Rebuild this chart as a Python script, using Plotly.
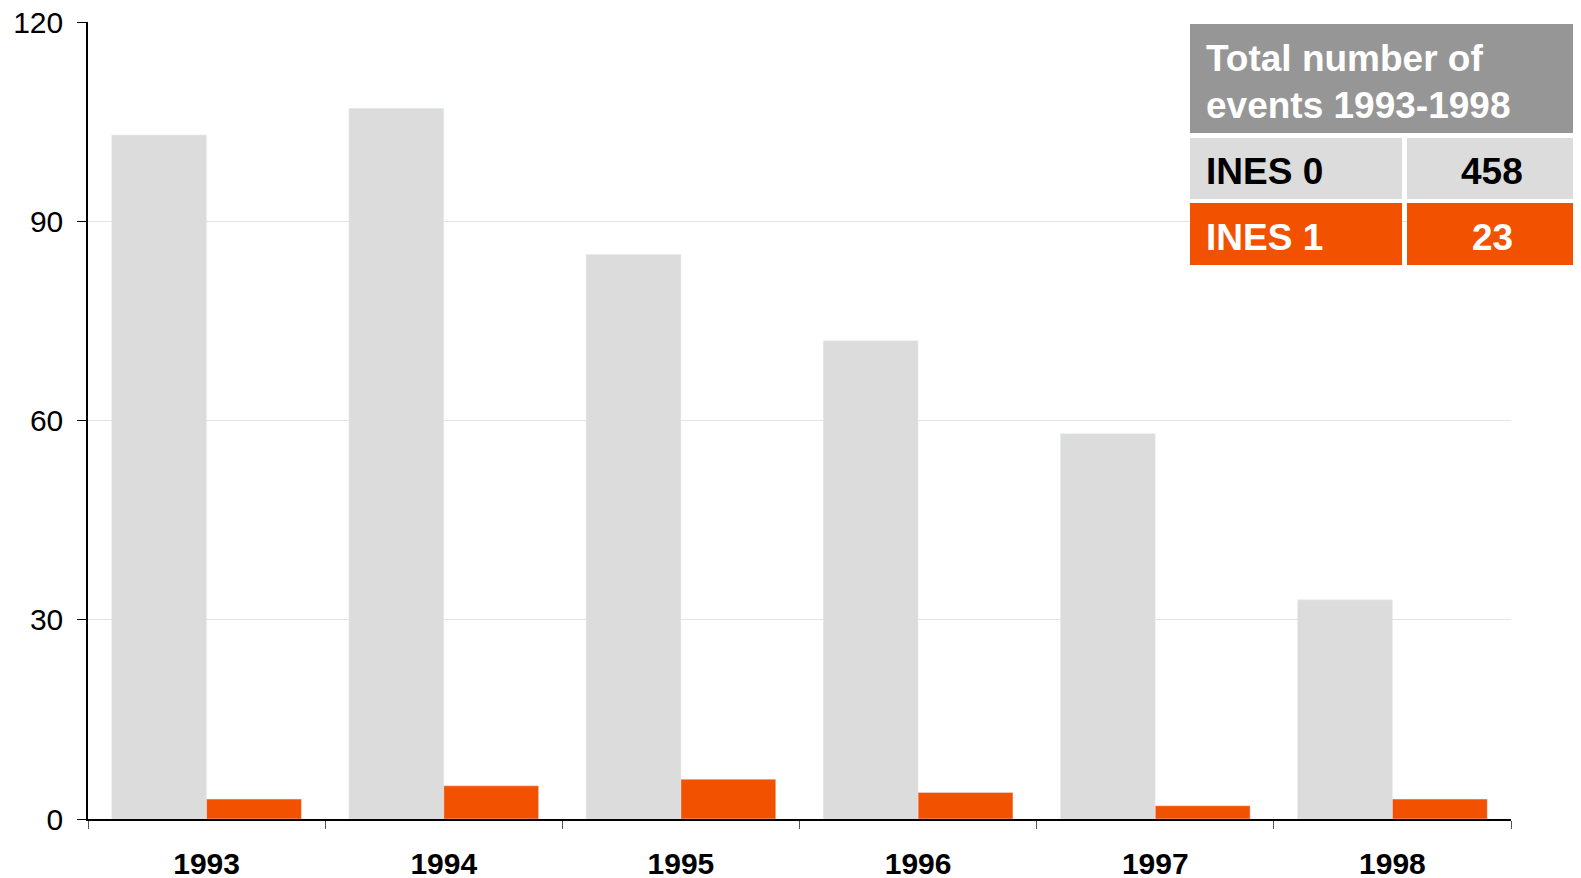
import plotly.graph_objects as go

YEARS = ["1993", "1994", "1995", "1996", "1997", "1998"]
INES_0 = [103, 107, 85, 72, 58, 33]
INES_1 = [3, 5, 6, 4, 2, 3]
SERIES_NAMES = ["INES 0", "INES 1"]
TABLE_TITLE = ["Total number of", "events 1993-1998"]

GREY = "#DCDCDC"
ORANGE = "#F25100"
HEADER = "#969696"
FONT = "Liberation Sans, Arial, sans-serif"

# the page body has an 8px margin, so the figure starts at (8, 8) on screen
PAGE_W, PAGE_H, OFFSET = 1581, 878, 8
# plot area in screen pixels
LEFT, RIGHT, TOP, BOTTOM = 88, 1511, 22, 819


def px_x(p):
    return (p - LEFT) / (RIGHT - LEFT)


def px_y(p):
    return (BOTTOM - p) / (BOTTOM - TOP)


fig = go.Figure()
fig.add_trace(go.Bar(name=SERIES_NAMES[0], x=YEARS, y=INES_0, marker_color=GREY))
fig.add_trace(go.Bar(name=SERIES_NAMES[1], x=YEARS, y=INES_1, marker_color=ORANGE))

# summary table at top right
cells = [
    (1190, 1577, 24, 133, HEADER),
    (1190, 1402, 138, 199, GREY),
    (1407, 1577, 138, 199, GREY),
    (1190, 1402, 203, 265, ORANGE),
    (1407, 1577, 203, 265, ORANGE),
]
for x0, x1, y0, y1, color in cells:
    fig.add_shape(
        type="rect", xref="paper", yref="paper",
        x0=px_x(x0), x1=px_x(x1), y0=px_y(y1), y1=px_y(y0),
        fillcolor=color, line_width=0, layer="above",
    )

for text, ycen in zip(TABLE_TITLE, [58, 106]):
    fig.add_annotation(
        text=f"<b>{text}</b>", xref="paper", yref="paper",
        x=px_x(1204), y=px_y(ycen), xanchor="left", yanchor="middle",
        showarrow=False, font={"family": FONT, "size": 37, "color": "white"},
    )

totals = [sum(INES_0), sum(INES_1)]
for name, total, ycen, color in zip(SERIES_NAMES, totals, [171, 237], ["black", "white"]):
    fig.add_annotation(
        text=f"<b>{name}</b>", xref="paper", yref="paper",
        x=px_x(1204), y=px_y(ycen), xanchor="left", yanchor="middle",
        showarrow=False, font={"family": FONT, "size": 37, "color": color},
    )
    fig.add_annotation(
        text=f"<b>{total}</b>", xref="paper", yref="paper",
        x=px_x(1492), y=px_y(ycen), xanchor="center", yanchor="middle",
        showarrow=False, font={"family": FONT, "size": 37, "color": color},
    )

fig.update_layout(
    width=PAGE_W - OFFSET,
    height=PAGE_H - OFFSET,
    barmode="group",
    bargap=0.2,
    bargroupgap=0,
    showlegend=False,
    paper_bgcolor="white",
    plot_bgcolor="white",
    margin={
        "l": LEFT - OFFSET,
        "r": PAGE_W - RIGHT,
        "t": TOP - OFFSET,
        "b": PAGE_H - BOTTOM,
        "autoexpand": False,
    },
    font={"family": FONT, "color": "black"},
)
fig.update_xaxes(
    type="category",
    automargin=False,
    tickson="boundaries",
    ticks="outside",
    ticklen=8,
    tickcolor="#555555",
    showline=True,
    linecolor="black",
    linewidth=1.5,
    showgrid=False,
    tickfont={"size": 30, "family": FONT, "color": "black"},
    tickprefix="<b>",
    ticksuffix="</b>",
    ticklabelstandoff=17,
    ticklabeloverflow="allow",
)
fig.update_yaxes(
    range=[0, 120],
    tickvals=[0, 30, 60, 90, 120],
    automargin=False,
    ticks="outside",
    ticklen=9,
    tickcolor="black",
    showline=True,
    linecolor="black",
    linewidth=1.5,
    gridcolor="#E3E3E3",
    zeroline=False,
    tickfont={"size": 30, "family": FONT, "color": "black"},
    ticklabelstandoff=8,
    ticklabeloverflow="allow",
)

fig.write_html("out.html")
